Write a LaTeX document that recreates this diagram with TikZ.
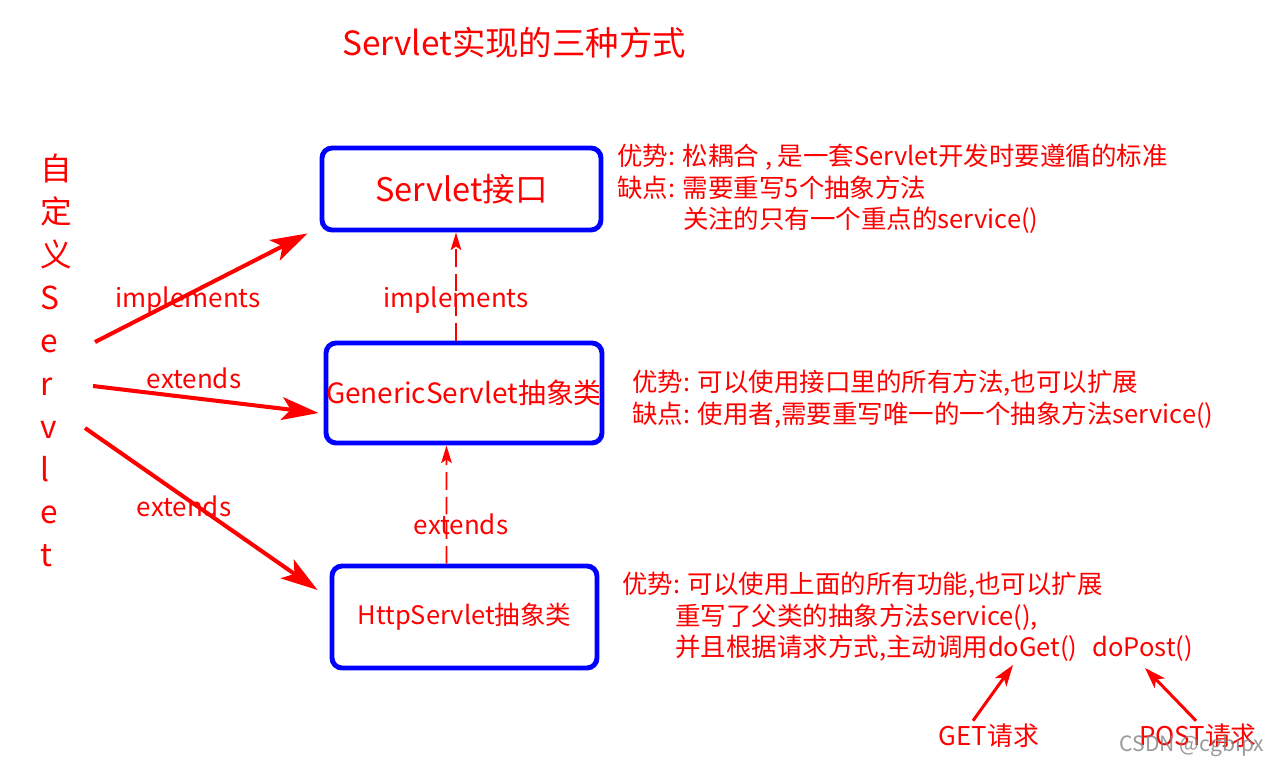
\documentclass[tikz,border=0pt]{standalone}
\usepackage{fontspec}
\setmainfont{Noto Sans CJK SC}
\usetikzlibrary{arrows.meta, positioning, calc}

\begin{document}
\begin{tikzpicture}[x=0.02cm, y=-0.02cm,
  classbox/.style={draw=blue, line width=2.8pt, rounded corners=0.2cm, text=red, inner sep=0pt},
  bigarrow/.style={draw=red, line width=2.3pt, -{Stealth[length=21pt, width=13pt, inset=5pt]}},
  dasharrow/.style={draw=red, line width=1.1pt, dash pattern=on 10pt off 4pt, -{Stealth[length=10pt, width=6pt, inset=2pt]}},
  notearrow/.style={draw=red, line width=1.7pt, -{Stealth[length=12pt, width=8pt, inset=3pt]}},
  note/.style={text=red, anchor=north west, inner sep=0pt, align=left, font=\fontsize{14.5pt}{17.9pt}\selectfont},
  rellabel/.style={text=red, inner sep=0pt, font=\fontsize{14.8pt}{18pt}\selectfont}]
\useasboundingbox (0,0) rectangle (1271,765);

\node[text=red, font=\fontsize{19pt}{24pt}\selectfont] (title) at (514,43) {Servlet实现的三种方式};

\node[text=red, anchor=north west, inner sep=0pt, align=left, font=\fontsize{18pt}{24.4pt}\selectfont]
  (custom) at (40,154) {自\\定\\义\\S\\e\\r\\v\\l\\e\\t};

\node[classbox, minimum width=5.58cm, minimum height=1.64cm, font=\fontsize{18.5pt}{22pt}\selectfont]
  (servlet) at (461.5,189) {Servlet接口\hspace{0.56cm}};
\node[classbox, minimum width=5.52cm, minimum height=2.0cm, font=\fontsize{15.9pt}{20pt}\selectfont]
  (generic) at (464,393) {GenericServlet抽象类};
\node[classbox, minimum width=5.30cm, minimum height=2.04cm, font=\fontsize{14.5pt}{18pt}\selectfont]
  (http) at (464.5,617) {HttpServlet抽象类\hspace{0.16cm}};

\coordinate (implsrc) at (95,342);
\coordinate (extsrc) at (93,386);
\coordinate (httpsrc) at (85,428);
\draw[bigarrow] (implsrc) -- ($(servlet.south west)+(-12,1)$);
\draw[bigarrow] (extsrc) -- ($(generic.west)+(-5,20)$);
\draw[bigarrow] (httpsrc) -- ($(http.west)+(-12,-27)$);
\node[rellabel] (impllabel) at (188,300) {implements};
\node[rellabel] (extlabel) at (194,378) {extends};
\node[rellabel] (httplabel) at (184,506) {extends};

\draw[dasharrow] ($(generic.north)+(-8,0)$) -- ($(servlet.south)+(-5.5,0)$)
  node[rellabel, pos=0.375] (genimpl) {implements};
\draw[dasharrow] ($(http.north)+(-18,0)$) -- ($(generic.south)+(-17.5,0)$)
  node[rellabel, pos=0.33, xshift=0.29cm] (httpext) {extends};

\node[note] (servletnote) at (617,144) {优势: 松耦合 , 是一套Servlet开发时要遵循的标准\\
  缺点: 需要重写5个抽象方法\\
  \phantom{缺点: }关注的只有一个重点的service()};
\node[note] (genericnote) at (632,370) {优势: 可以使用接口里的所有方法,也可以扩展\\
  缺点: 使用者,需要重写唯一的一个抽象方法service()};
\node[note] (httpnote) at (622,572) {优势: 可以使用上面的所有功能,也可以扩展\\
  \hspace*{1.06cm}重写了父类的抽象方法service(),\\
  \hspace*{1.06cm}并且根据请求方式,主动调用doGet()\hspace{0.3cm}doPost()};

\node[text=red, inner sep=0pt, font=\fontsize{14.7pt}{17pt}\selectfont] (get) at (989,736) {GET请求};
\node[text=red, inner sep=0pt, font=\fontsize{14.7pt}{17pt}\selectfont] (post) at (1198,736) {POST请求};
\coordinate (doget) at (1013,665);
\coordinate (dopost) at (1145,668);
\draw[notearrow] ($(get.north)+(-16,-3)$) -- (doget);
\draw[notearrow] ($(post.north)+(-2,-3)$) -- (dopost);

\node[text=gray, opacity=0.8, inner sep=0pt, font=\fontsize{12pt}{14pt}\selectfont] (mark) at (1192,746) {CSDN @cgbipx};
\end{tikzpicture}
\end{document}
